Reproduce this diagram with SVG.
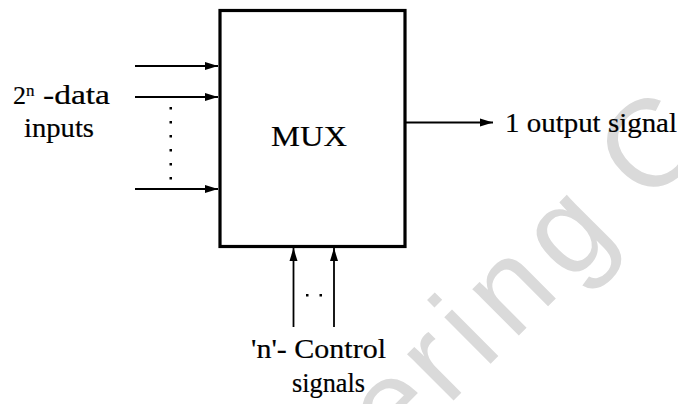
<svg xmlns="http://www.w3.org/2000/svg" width="678" height="404" viewBox="0 0 678 404">
<style>
.lbl{fill:#000;stroke:#000;stroke-width:0.2}
.wire{stroke:#000;stroke-width:1.8;fill:none}
.dot{fill:#000}
.wm{fill:#dadada}
</style>
<defs>
<marker id="ah" markerUnits="userSpaceOnUse" markerWidth="14" markerHeight="10" refX="13" refY="5" orient="auto">
<path d="M0,1 L13,5 L0,9 Z" fill="#000"/>
</marker>
</defs>
<rect width="678" height="404" fill="#fff"/>
<g id="watermark">
<text class="wm" font-family="Liberation Sans, Arial, sans-serif" font-size="124" transform="rotate(-45)" x="-46 29 81.6 121 202 271 312" y="604">ering C</text>
</g>
<g id="mux">
<rect x="220" y="10.5" width="185" height="236" fill="none" stroke="#000" stroke-width="3.2"/>
<text class="lbl" font-family="Liberation Serif, serif" x="309" y="146" text-anchor="middle" font-size="30" textLength="76" lengthAdjust="spacingAndGlyphs">MUX</text>
</g>
<g id="inputs" font-family="Liberation Serif, serif" font-size="28">
<text class="lbl" x="13" y="104" font-size="26">2</text>
<text class="lbl" x="26" y="96" font-size="17">n</text>
<text class="lbl" x="43" y="104" textLength="67" lengthAdjust="spacingAndGlyphs">-data</text>
<text class="lbl" x="24" y="137" textLength="70" lengthAdjust="spacingAndGlyphs">inputs</text>
<g class="dot">
<rect x="169.5" y="107" width="2.5" height="2.5"/>
<rect x="169.5" y="121" width="2.5" height="2.5"/>
<rect x="169.5" y="135" width="2.5" height="2.5"/>
<rect x="169.5" y="149" width="2.5" height="2.5"/>
<rect x="169.5" y="163" width="2.5" height="2.5"/>
<rect x="169.5" y="177" width="2.5" height="2.5"/>
</g>
</g>
<g id="output" font-family="Liberation Serif, serif" font-size="28">
<text class="lbl" x="505" y="132" textLength="172" lengthAdjust="spacingAndGlyphs">1 output signal</text>
</g>
<g id="control" font-family="Liberation Serif, serif" font-size="28">
<text class="lbl" x="251" y="358" textLength="135" lengthAdjust="spacingAndGlyphs">'n'- Control</text>
<text class="lbl" x="292" y="392" textLength="73" lengthAdjust="spacingAndGlyphs">signals</text>
<rect class="dot" x="306" y="294" width="2.5" height="2.5"/>
<rect class="dot" x="319.5" y="294" width="2.5" height="2.5"/>
</g>
<g id="connectors">
<line class="wire" x1="135" y1="66" x2="218" y2="66" marker-end="url(#ah)"/>
<line class="wire" x1="135" y1="97" x2="218" y2="97" marker-end="url(#ah)"/>
<line class="wire" x1="135" y1="189" x2="218" y2="189" marker-end="url(#ah)"/>
<line class="wire" x1="406" y1="122.5" x2="493" y2="122.5" marker-end="url(#ah)"/>
<line class="wire" x1="293.5" y1="327" x2="293.5" y2="248" marker-end="url(#ah)"/>
<line class="wire" x1="334" y1="327" x2="334" y2="248" marker-end="url(#ah)"/>
</g>
</svg>
